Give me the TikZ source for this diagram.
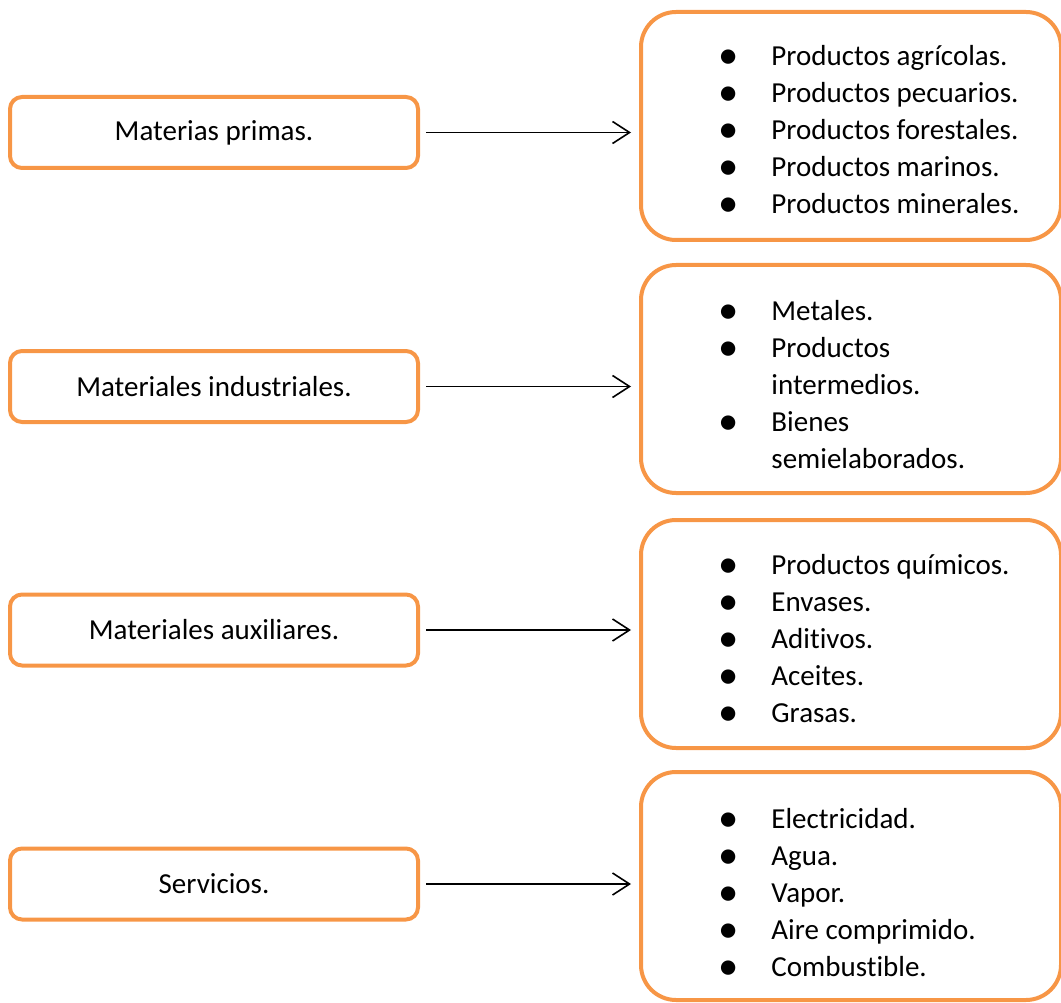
\documentclass[tikz,border=0pt]{standalone}
\usepackage{fontspec}
\setmainfont[Ligatures=NoCommon]{Carlito}
\usepackage{tikz}
\usetikzlibrary{positioning,arrows.meta}
\definecolor{boxorange}{RGB}{247,150,70}
\newcommand{\bul}{\raisebox{-3pt}{\scalebox{1.4}{\textbullet}}}

\begin{document}
\begin{tikzpicture}[x=1pt, y=-1pt,
    % node attributes
    every node/.style = {
        font=\fontsize{29}{37}\selectfont},
    matbox/.style = {
        shape=rectangle,
        draw=boxorange,
        line width=4pt,
        rounded corners=12pt,
        minimum width=408pt,
        minimum height=71pt},
    lstbox/.style = {
        shape=rectangle,
        draw=boxorange,
        line width=4pt,
        rounded corners=35pt,
        minimum width=420pt,
        minimum height=228pt},
    lsttext/.style = {
        inner sep=0pt,
        align=left},
    link/.style = {
        line width=1.6pt,
        -{Straight Barb[length=17pt,width=22pt,line width=1.6pt]},
        shorten <=6pt,
        shorten >=8pt}]
    \useasboundingbox (0,0) rectangle (1061,1003);
    % left column
    \node[matbox] (mat1) at (214,132.5) {Materias primas.};
    \node[matbox] (mat2) at (214,386.5) {Materiales industriales.};
    \node[matbox] (mat3) at (214,630) {Materiales auxiliares.};
    \node[matbox] (mat4) at (214,884) {Servicios.};
    % right column
    \node[lstbox] (lst1) at (851,126) {};
    \node[lstbox] (lst2) at (851,379) {};
    \node[lstbox] (lst3) at (851,634) {};
    \node[lstbox] (lst4) at (851,886) {};
    % lists
    \node[lsttext, right=79pt of lst1.west, yshift=-6pt] (txt1) {%
        \begin{tabular}{@{}l@{\hspace{33pt}}l@{}}
        \bul & Productos agrícolas.\\
        \bul & Productos pecuarios.\\
        \bul & Productos forestales.\\
        \bul & Productos marinos.\\
        \bul & Productos minerales.
        \end{tabular}};
    \node[lsttext, right=79pt of lst2.west, yshift=-8pt] (txt2) {%
        \begin{tabular}{@{}l@{\hspace{33pt}}l@{}}
        \bul & Metales.\\
        \bul & Productos\\
             & intermedios.\\
        \bul & Bienes\\
             & semielaborados.
        \end{tabular}};
    \node[lsttext, right=79pt of lst3.west, yshift=-7pt] (txt3) {%
        \begin{tabular}{@{}l@{\hspace{33pt}}l@{}}
        \bul & Productos químicos.\\
        \bul & Envases.\\
        \bul & Aditivos.\\
        \bul & Aceites.\\
        \bul & Grasas.
        \end{tabular}};
    \node[lsttext, right=79pt of lst4.west, yshift=-9pt] (txt4) {%
        \begin{tabular}{@{}l@{\hspace{33pt}}l@{}}
        \bul & Electricidad.\\
        \bul & Agua.\\
        \bul & Vapor.\\
        \bul & Aire comprimido.\\
        \bul & Combustible.
        \end{tabular}};
    % connectors
    \draw[link] (mat1.east) -- (mat1.east -| lst1.west);
    \draw[link] (mat2.east) -- (mat2.east -| lst2.west);
    \draw[link] (mat3.east) -- (mat3.east -| lst3.west);
    \draw[link] (mat4.east) -- (mat4.east -| lst4.west);
\end{tikzpicture}
\end{document}
